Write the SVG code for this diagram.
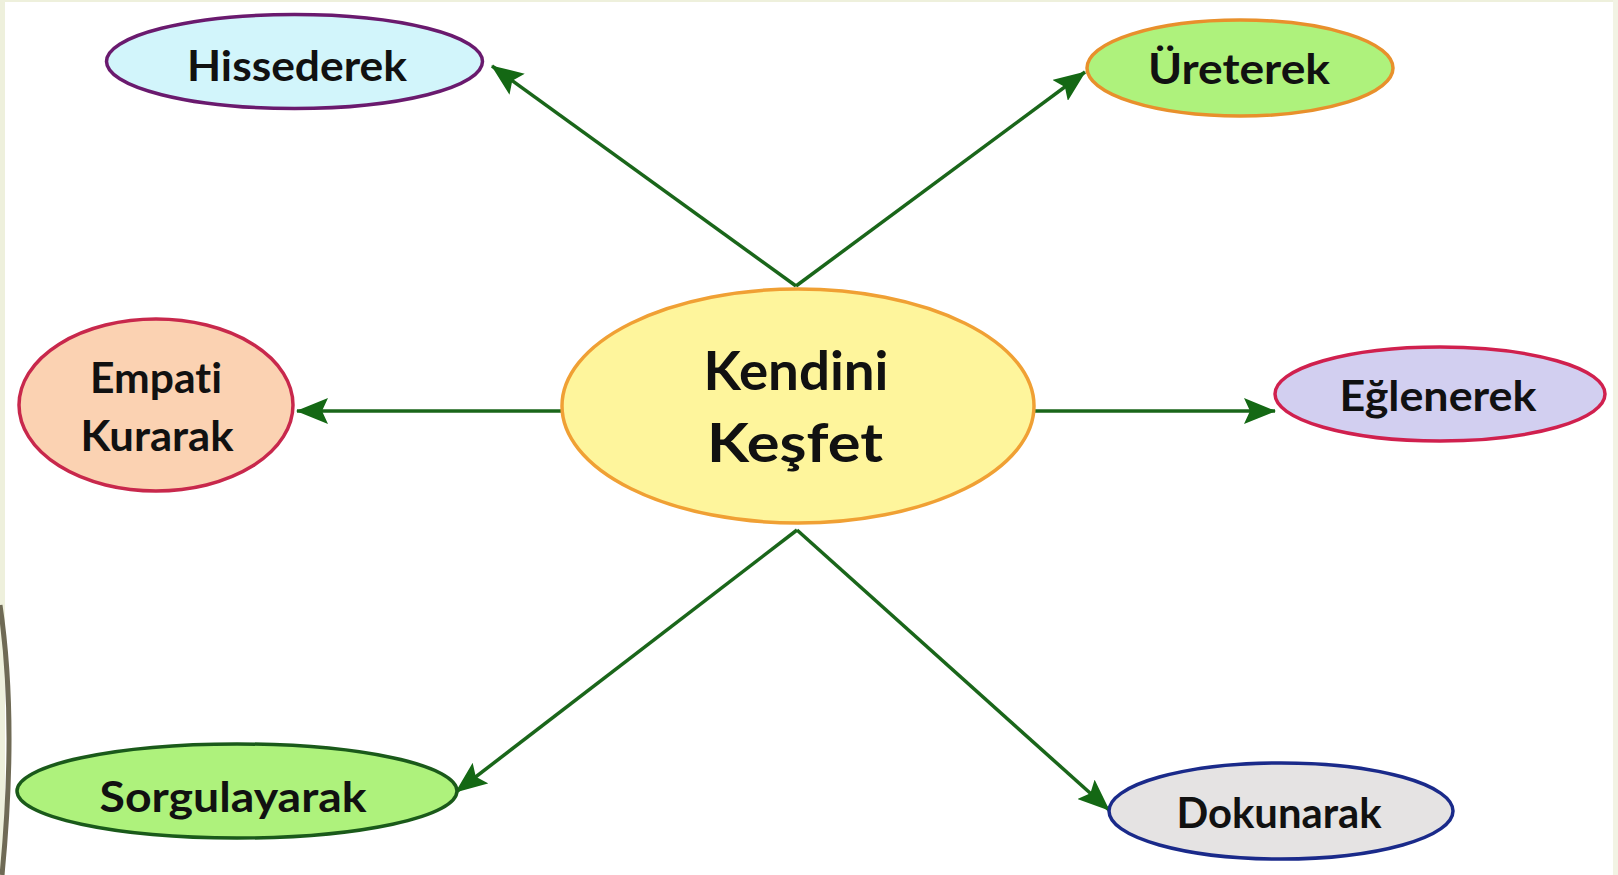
<svg xmlns="http://www.w3.org/2000/svg" width="1618" height="875" viewBox="0 0 1618 875">
<defs>
<marker id="ah" viewBox="0 0 32 26" refX="31" refY="13" markerWidth="32" markerHeight="26" orient="auto" markerUnits="userSpaceOnUse">
<path d="M0,0 L32,13 L0,26 L6,13 Z" fill="#146814"/>
</marker>
</defs>
<style>
.lbl{font-family:"Lato","Liberation Sans",sans-serif;font-weight:bold;font-size:42px;fill:#111;text-anchor:middle;font-variant-ligatures:none}
.big{font-size:54px}
.n{stroke-width:3.5}
.c{stroke:#1a661a;stroke-width:3.5;fill:none;marker-end:url(#ah)}
</style>
<rect width="1618" height="875" fill="#ffffff"/>
<rect x="0" y="0" width="5" height="875" fill="#eef0dc"/>
<rect x="0" y="0" width="1618" height="2" fill="#eef0dc"/>
<rect x="1613" y="0" width="5" height="875" fill="#f2f3e4"/>
<path d="M0,605 Q17,720 2,875" stroke="#6f6a55" stroke-width="5" fill="none"/>
<g id="connectors">
<line class="c" x1="796" y1="286" x2="492" y2="66"/>
<line class="c" x1="796" y1="286" x2="1085" y2="72"/>
<line class="c" x1="562" y1="411" x2="297" y2="411"/>
<line class="c" x1="1034" y1="411" x2="1275" y2="411"/>
<line class="c" x1="797" y1="530" x2="456" y2="792"/>
<line class="c" x1="797" y1="530" x2="1109" y2="810"/>
</g>
<g id="center">
<ellipse class="n" cx="798" cy="406" rx="236" ry="117" fill="#fef59c" stroke="#f0a034"/>
<text class="lbl big" x="796" y="390" textLength="185" lengthAdjust="spacingAndGlyphs">Kendini</text>
<text class="lbl big" x="795" y="462" textLength="176" lengthAdjust="spacingAndGlyphs">Keşfet</text>
</g>
<g id="hissederek">
<ellipse class="n" cx="294.5" cy="61.5" rx="188" ry="47" fill="#d2f5fb" stroke="#6a1a6e"/>
<text class="lbl" x="297" y="81" textLength="220" lengthAdjust="spacingAndGlyphs">Hissederek</text>
</g>
<g id="ureterek">
<ellipse class="n" cx="1240" cy="68" rx="153" ry="48" fill="#aef27c" stroke="#e8902c"/>
<text class="lbl" x="1239" y="84" textLength="182" lengthAdjust="spacingAndGlyphs">Üreterek</text>
</g>
<g id="empati">
<ellipse class="n" cx="156" cy="405" rx="137" ry="86" fill="#fbd2b2" stroke="#c8284c"/>
<text class="lbl" x="156" y="393" textLength="132" lengthAdjust="spacingAndGlyphs">Empati</text>
<text class="lbl" x="157" y="451" textLength="153" lengthAdjust="spacingAndGlyphs">Kurarak</text>
</g>
<g id="eglenerek">
<ellipse class="n" cx="1440" cy="394" rx="165" ry="47" fill="#d2cff0" stroke="#d0204e"/>
<text class="lbl" x="1438" y="411" textLength="197" lengthAdjust="spacingAndGlyphs">Eğlenerek</text>
</g>
<g id="sorgulayarak">
<ellipse class="n" cx="237" cy="791" rx="220" ry="47" fill="#aef27c" stroke="#1a5a1a"/>
<text class="lbl" x="233" y="812" textLength="267" lengthAdjust="spacingAndGlyphs">Sorgulayarak</text>
</g>
<g id="dokunarak">
<ellipse class="n" cx="1281" cy="811" rx="172" ry="48" fill="#e5e3e3" stroke="#1a2a8a"/>
<text class="lbl" x="1279" y="828" textLength="205" lengthAdjust="spacingAndGlyphs">Dokunarak</text>
</g>
</svg>
